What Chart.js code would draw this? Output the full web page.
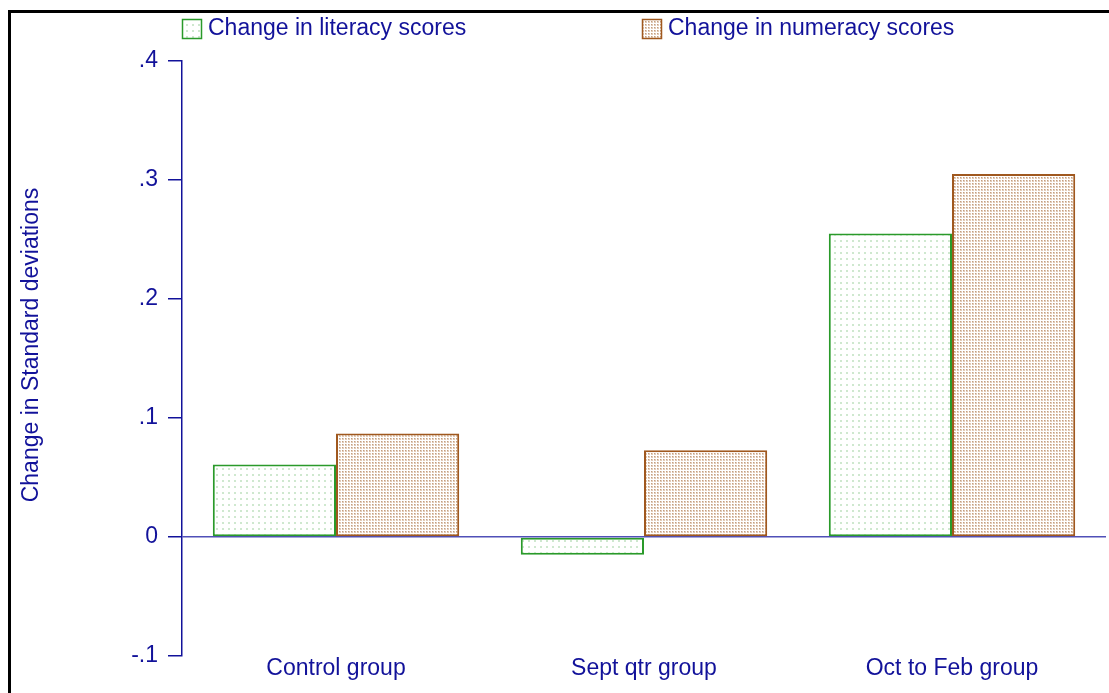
<!DOCTYPE html>
<html>
<head>
<meta charset="utf-8">
<script src="https://cdn.jsdelivr.net/npm/chart.js@4.4.0/dist/chart.umd.min.js"></script>
<style>
  html, body { margin: 0; padding: 0; background: #fff; }
  #wrap { position: relative; width: 1109px; height: 693px; overflow: hidden; }
  #frame { position: absolute; left: 8px; top: 10px; width: 1200px; height: 800px;
           border-top: 3px solid #000; border-left: 3px solid #000; box-sizing: border-box; }
  canvas { position: absolute; left: 0; top: 0; }
</style>
</head>
<body>
<div id="wrap">
  <div id="frame"></div>
  <canvas id="c" width="1109" height="693"></canvas>
</div>
<script>
const categories = ['Control group', 'Sept qtr group', 'Oct to Feb group'];
const literacy = [0.061, -0.015, 0.255];
const numeracy = [0.087, 0.073, 0.305];
const yTickValues = [-0.1, 0, 0.1, 0.2, 0.3, 0.4];
const yTickLabels = ['-.1', '0', '.1', '.2', '.3', '.4'];
const seriesLabels = ['Change in literacy scores', 'Change in numeracy scores'];
const yTitle = 'Change in Standard deviations';

const NAVY = '#12129a';
const FONT = 'Liberation Sans, Arial, Helvetica, sans-serif';
const FSIZE = 23;

function makePattern(size, bg, dots) {
  const c = document.createElement('canvas');
  c.width = size; c.height = size;
  const g = c.getContext('2d');
  g.fillStyle = bg; g.fillRect(0, 0, size, size);
  dots.forEach(d => { g.fillStyle = d[4]; g.fillRect(d[0], d[1], d[2], d[3]); });
  return g.createPattern(c, 'repeat');
}
const litPattern = makePattern(6, '#ffffff', [[0, 0, 2, 2, '#cfe8cf']]);
const numPattern = makePattern(3, '#ffffff', [[0, 0, 2, 2, '#e2cbb8'], [0, 0, 1, 1, '#c29e80']]);

const legendPlugin = {
  id: 'customLegend',
  afterDraw(chart, args, opts) {
    const ctx = chart.ctx;
    ctx.save();
    chart.data.datasets.forEach((ds, i) => {
      const p = opts.items[i];
      ctx.fillStyle = ds.backgroundColor;
      ctx.fillRect(p.x, p.y, 20, 20);
      ctx.strokeStyle = ds.borderColor;
      ctx.lineWidth = 1.5;
      ctx.strokeRect(p.x + 0.5, p.y + 0.5, 19, 19);
      ctx.fillStyle = NAVY;
      ctx.font = FSIZE + 'px ' + FONT;
      ctx.textBaseline = 'middle';
      ctx.textAlign = 'left';
      ctx.fillText(ds.label, p.x + 26, p.y + 10);
    });
    // y-axis title
    ctx.translate(opts.title.x, opts.title.y);
    ctx.rotate(-Math.PI / 2);
    ctx.textAlign = 'center';
    ctx.textBaseline = 'middle';
    ctx.fillStyle = NAVY;
    ctx.font = FSIZE + 'px ' + FONT;
    ctx.fillText(opts.title.text, 0, 0);
    ctx.restore();
  }
};

new Chart(document.getElementById('c'), {
  type: 'bar',
  data: {
    labels: categories,
    datasets: [
      { label: seriesLabels[0], data: literacy, backgroundColor: litPattern,
        borderColor: '#2a9a2a', borderWidth: 2, borderSkipped: false,
        categoryPercentage: 0.8, barPercentage: 1.0 },
      { label: seriesLabels[1], data: numeracy, backgroundColor: numPattern,
        borderColor: '#a0581e', borderWidth: 2, borderSkipped: false,
        categoryPercentage: 0.8, barPercentage: 1.0 }
    ]
  },
  plugins: [legendPlugin],
  options: {
    responsive: false,
    animation: false,
    layout: { padding: { top: 61, left: 0, right: 3, bottom: 0 } },
    plugins: {
      legend: { display: false },
      tooltip: { enabled: false },
      customLegend: { items: [{ x: 182, y: 19 }, { x: 642, y: 19 }],
                      title: { text: yTitle, x: 32, y: 345 } }
    },
    scales: {
      x: {
        grid: { display: false },
        border: { display: false },
        ticks: { color: NAVY, font: { family: FONT, size: FSIZE }, padding: -9, maxRotation: 0 },
        afterFit(scale) { scale.height = 37; }
      },
      y: {
        min: -0.1, max: 0.4,
        afterBuildTicks(scale) { scale.ticks = yTickValues.map(v => ({ value: v })); },
        afterFit(scale) { scale.width = 182; },
        ticks: {
          color: NAVY, font: { family: FONT, size: FSIZE }, padding: 10,
          callback: (v) => { const i = yTickValues.findIndex(t => Math.abs(t - v) < 1e-9); return i >= 0 ? yTickLabels[i] : ''; }
        },
        grid: {
          tickLength: 14,
          lineWidth: 1.5,
          tickColor: NAVY,
          color: (c) => (c.tick && Math.abs(c.tick.value) < 1e-9) ? '#5050b8' : 'rgba(0,0,0,0)'
        },
        border: { display: true, color: NAVY, width: 1.5 },
        title: { display: false }
      }
    }
  }
});
</script>
</body>
</html>
